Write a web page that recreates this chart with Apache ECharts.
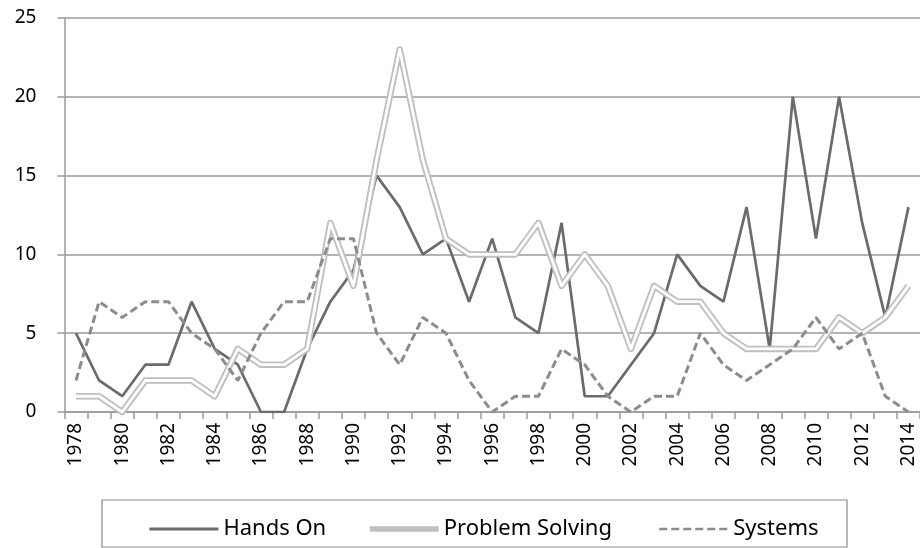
<!DOCTYPE html>
<html>
<head>
<meta charset="utf-8">
<script src="https://cdn.jsdelivr.net/npm/echarts@6/dist/echarts.min.js"></script>
<style>html,body{margin:0;padding:0;background:#fff;}#c{width:920px;height:548px;}</style>
</head>
<body>
<div id="c"></div>
<script>
var years = ['1978','1979','1980','1981','1982','1983','1984','1985','1986','1987','1988','1989','1990','1991','1992','1993','1994','1995','1996','1997','1998','1999','2000','2001','2002','2003','2004','2005','2006','2007','2008','2009','2010','2011','2012','2013','2014'];
var handsOn = [5,2,1,3,3,7,4,3,0,0,4,7,9,15,13,10,11,7,11,6,5,12,1,1,3,5,10,8,7,13,4,20,11,20,12,6,13];
var problemSolving = [1,1,0,2,2,2,1,4,3,3,4,12,8,16,23,16,11,10,10,10,12,8,10,8,4,8,7,7,5,4,4,4,4,6,5,6,8];
var systems = [2,7,6,7,7,5,4,2,5,7,7,11,11,5,3,6,5,2,0,1,1,4,3,1,0,1,1,5,3,2,3,4,6,4,5,1,0];
var yTicks = [0,5,10,15,20,25];

var chart = echarts.init(document.getElementById('c'), null, {renderer:'canvas'});
var FONT = 'Noto Sans';
function legendAt(name, left, lw){
  return {
    data:[name], left:left, top:513, itemWidth:69, itemHeight:14,
    textStyle:{fontFamily:FONT, fontSize:22, color:'#000'},
    itemStyle:{opacity:0},
    lineStyle:{width:lw},
    selectedMode:false
  };
}
chart.setOption({
  animation:false,
  backgroundColor:'#fff',
  grid:{left:64.4, right:-5.8, top:18, bottom:136, containLabel:false},
  xAxis:{
    type:'category', data:years, boundaryGap:true,
    axisLine:{show:true, lineStyle:{color:'#9a9a9a', width:1.5}},
    axisTick:{show:true, interval:0, length:7, lineStyle:{color:'#9a9a9a', width:1.5}},
    axisLabel:{interval:1, rotate:90, margin:11, color:'#000', fontFamily:FONT, fontSize:19},
    splitLine:{show:false}
  },
  yAxis:{
    type:'value', min:yTicks[0], max:yTicks[yTicks.length-1], interval:5,
    axisLine:{show:true, lineStyle:{color:'#9a9a9a', width:1.5}},
    axisTick:{show:true, length:7, lineStyle:{color:'#9a9a9a', width:1.5}},
    axisLabel:{margin:28, color:'#000', fontFamily:FONT, fontSize:19},
    splitLine:{show:true, lineStyle:{color:'#9a9a9a', width:1.5}}
  },
  legend:[legendAt('Hands On',143,2.8), legendAt('Problem Solving',362,5.5), legendAt('Systems',653,2.5)],
  graphic:[{type:'rect', shape:{x:102, y:500, width:745, height:47}, style:{fill:'none', stroke:'#8a8a8a', lineWidth:1.2}, silent:true}],
  series:[
    {name:'Hands On', type:'line', data:handsOn, symbol:'none', z:2,
     lineStyle:{color:'#6b6b6b', width:2.7}, itemStyle:{color:'#6b6b6b'}},
    {name:'Problem Solving', type:'line', data:problemSolving, symbol:'none', z:3,
     lineStyle:{color:'#bfbfbf', width:6.5, join:'round'}, itemStyle:{color:'#bfbfbf'}},
    {name:'Problem Solving inner', type:'line', data:problemSolving, symbol:'none', z:4, silent:true,
     lineStyle:{color:'#ffffff', width:2.8, join:'round'}, itemStyle:{color:'#ffffff'}},
    {name:'Systems', type:'line', data:systems, symbol:'none', z:5,
     lineStyle:{color:'#8c8c8c', width:3, type:[8,4]}, itemStyle:{color:'#8c8c8c'}}
  ]
});
</script>
</body>
</html>
